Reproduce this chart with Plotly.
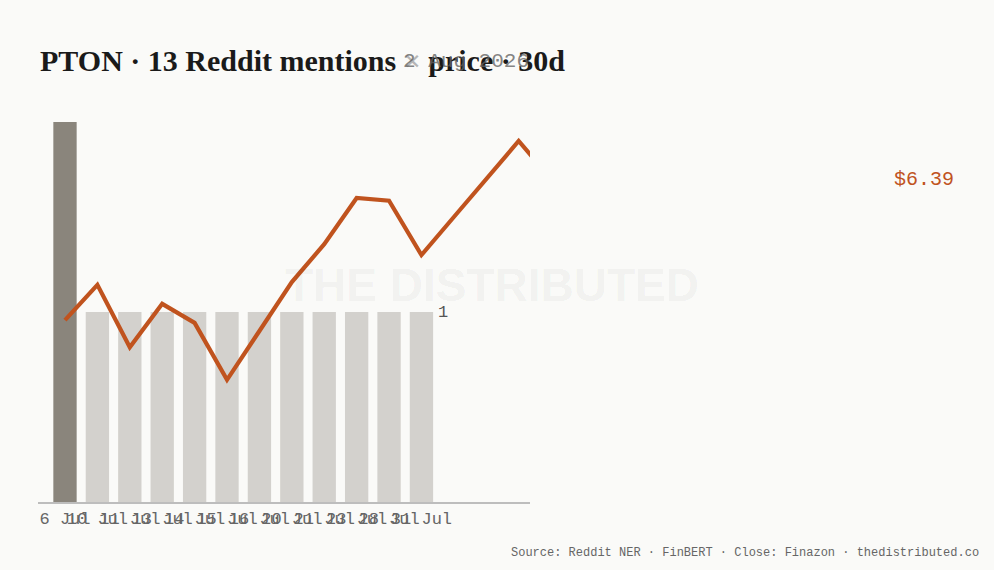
import plotly.graph_objects as go

# Daily Reddit mention counts (bars) and closing price (line)
mention_dates = ["6 Jul", "10 Jul", "11 Jul", "13 Jul", "14 Jul", "15 Jul",
                 "16 Jul", "20 Jul", "21 Jul", "23 Jul", "28 Jul", "31 Jul"]
mentions = [2, 1, 1, 1, 1, 1, 1, 1, 1, 1, 1, 1]
price_closes = [5.87, 6.00, 5.77, 5.93, 5.86, 5.65, 5.83, 6.01,
                6.15, 6.32, 6.31, 6.11, 6.25, 6.39, 6.53, 6.39]
last_price_label = "$6.39"
date_stamp = "2 Aug 2026"

BG = "#fafaf8"
RUST = "#c0531e"
MONO = "Liberation Mono, DejaVu Sans Mono, monospace"

peak = max(mentions)
bar_colors = ["#8a857c" if v == peak else "#d3d1cd" for v in mentions]

fig = go.Figure()

fig.add_trace(go.Bar(
    x=list(range(len(mentions))),
    y=mentions,
    width=0.72,
    marker=dict(color=bar_colors, line=dict(width=0)),
    hoverinfo="skip",
    showlegend=False,
))

fig.add_trace(go.Scatter(
    x=list(range(len(price_closes))),
    y=price_closes,
    yaxis="y2",
    mode="lines",
    line=dict(color=RUST, width=4.2),
    hoverinfo="skip",
    showlegend=False,
))

annotations = [
    # watermark
    dict(text="THE DISTRIBUTED", xref="paper", yref="paper", x=0.922, y=0.571,
         showarrow=False, font=dict(family="Liberation Sans, Arial", size=46,
                                    color="rgba(0,0,0,0.055)", weight="bold"),
         xanchor="center", yanchor="middle"),
    # value label beside the last bar
    dict(text=str(mentions[-1]), x=len(mentions) - 1 + 0.45, y=mentions[-1],
         xref="x", yref="y", showarrow=False, xanchor="left", yanchor="middle",
         font=dict(family=MONO, size=17, color="#555555")),
    # last price
    dict(text=last_price_label, xref="paper", yref="y2", x=1.736, y=price_closes[-1],
         showarrow=False, xanchor="left", yanchor="middle",
         font=dict(family=MONO, size=20, color=RUST)),
    # date stamp
    dict(text=date_stamp, xref="paper", yref="paper", x=0.738, y=1.158,
         showarrow=False, xanchor="left", yanchor="middle",
         font=dict(family=MONO, size=21, color="rgba(100,100,100,0.8)")),
    # footer
    dict(text="Source: Reddit NER · FinBERT · Close: Finazon · thedistributed.co",
         xref="paper", yref="paper", x=1.917, y=-0.134, showarrow=False,
         xanchor="right", yanchor="middle",
         font=dict(family=MONO, size=12, color="#666666")),
]

fig.update_layout(
    width=994,
    height=570,
    paper_bgcolor=BG,
    plot_bgcolor=BG,
    margin=dict(l=38, r=464, t=122, b=68),
    title=dict(
        text="PTON · 13 Reddit mentions <span style='color:#b5b5b5'>×</span> price · 30d",
        x=40 / 994, xanchor="left", xref="container",
        y=1 - 60 / 570, yanchor="middle", yref="container",
        font=dict(family="Liberation Serif, DejaVu Serif, serif", size=30,
                  color="#1a1a1a", weight="bold"),
    ),
    xaxis=dict(
        range=[-0.833, 14.35],
        tickvals=list(range(len(mention_dates))),
        ticktext=mention_dates,
        tickangle=0,
        showgrid=False,
        zeroline=False,
        showline=True,
        linecolor="#bdbdbd",
        linewidth=2,
        ticks="",
        tickfont=dict(family=MONO, size=17, color="#666666"),
    ),
    yaxis=dict(range=[0, 2], visible=False, showgrid=False, zeroline=False),
    yaxis2=dict(range=[5.2, 6.6], overlaying="y", visible=False,
                showgrid=False, zeroline=False),
    annotations=annotations,
    bargap=0.28,
)

fig.write_html("out.html", config={"displayModeBar": False},
               post_script="document.body.style.margin='0';")
